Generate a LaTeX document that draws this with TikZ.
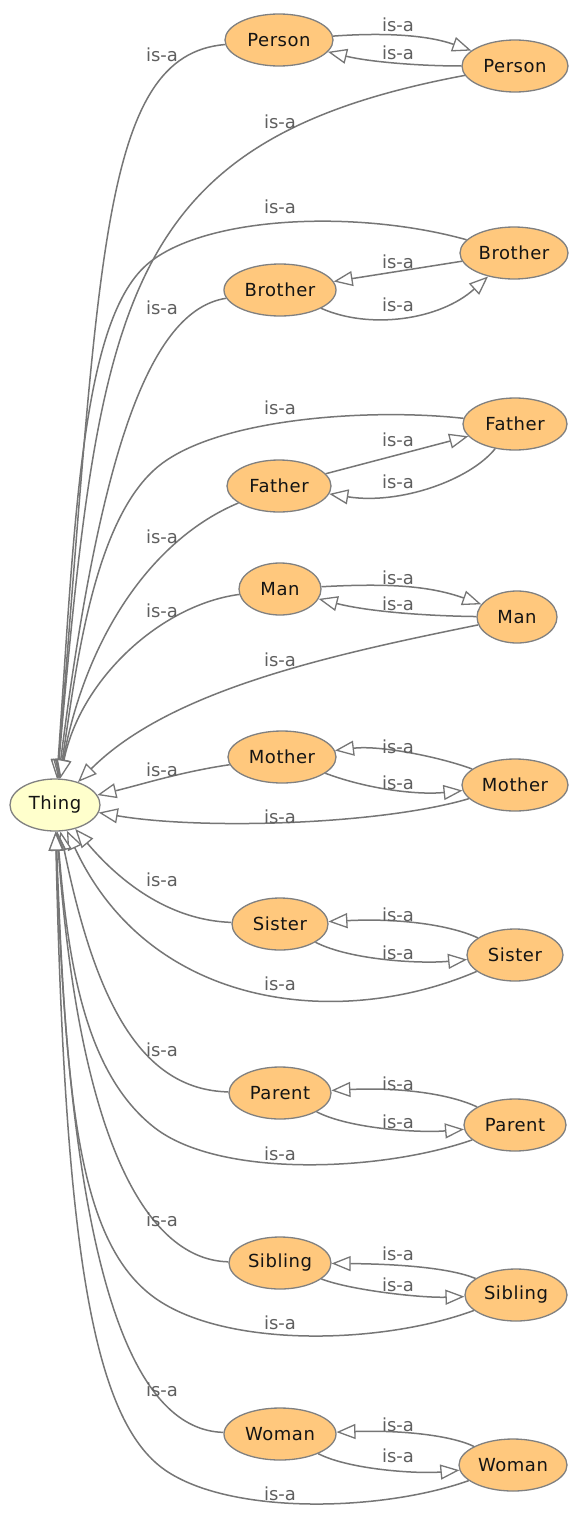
\documentclass[tikz,border=0pt]{standalone}
\usepackage{fontspec}
\setmainfont{DejaVu Sans}
\newfontfamily\conceptfont[LetterSpace=3]{DejaVu Sans}
\usetikzlibrary{arrows.meta,shapes.geometric}

\definecolor{conceptfill}{RGB}{255,200,125}
\definecolor{rootfill}{RGB}{255,255,204}
\definecolor{edgegray}{RGB}{118,118,118}
\definecolor{bordergray}{RGB}{128,128,128}
\definecolor{labelgray}{RGB}{95,95,95}
\definecolor{conceptText}{RGB}{20,20,20}

\tikzset{
  concept/.style={ellipse, draw=bordergray, line width=1.3pt, fill=conceptfill,
    inner sep=0pt, minimum height=52pt, text=conceptText,
    font=\conceptfont\fontsize{18}{20}\selectfont},
  root/.style={concept, fill=rootfill},
  isa/.style={draw=edgegray, line width=1.5pt,
    -{Triangle[length=19pt,width=15pt,fill=white,line width=1.3pt]}},
  lbl/.style={font=\fontsize{18}{20}\selectfont, text=labelgray, inner sep=0pt},
}

\begin{document}
\begin{tikzpicture}[x=1pt,y=-1pt]
\useasboundingbox (0,0) rectangle (570,1515);
\fill[white] (0,0) rectangle (570,1515);

% root class
\node[root, minimum width=90pt] (Thing) at (55,805) {Thing};

% left column
\node[concept, minimum width=108pt] (PersonL)  at (279,40)   {Person};
\node[concept, minimum width=112pt] (BrotherL) at (280,290)  {Brother};
\node[concept, minimum width=104pt] (FatherL)  at (279,486)  {Father};
\node[concept, minimum width=82pt]  (ManL)     at (280,589)  {Man};
\node[concept, minimum width=108pt] (MotherL)  at (282,757)  {Mother};
\node[concept, minimum width=96pt]  (SisterL)  at (280,924)  {Sister};
\node[concept, minimum width=102pt] (ParentL)  at (280,1093) {Parent};
\node[concept, minimum width=102pt] (SiblingL) at (280,1263) {Sibling};
\node[concept, minimum width=112pt] (WomanL)   at (280,1434) {Woman};

% right column
\node[concept, minimum width=106pt] (PersonR)  at (515,66)   {Person};
\node[concept, minimum width=108pt] (BrotherR) at (514,253)  {Brother};
\node[concept, minimum width=104pt] (FatherR)  at (515,424)  {Father};
\node[concept, minimum width=80pt]  (ManR)     at (517,617)  {Man};
\node[concept, minimum width=106pt] (MotherR)  at (515,785)  {Mother};
\node[concept, minimum width=96pt]  (SisterR)  at (515,955)  {Sister};
\node[concept, minimum width=102pt] (ParentR)  at (515,1125) {Parent};
\node[concept, minimum width=102pt] (SiblingR) at (516,1295) {Sibling};
\node[concept, minimum width=108pt] (WomanR)   at (513,1465) {Woman};

% subclass links into the root
\draw[isa] (PersonL) .. controls (100,55) and (100,260) .. (Thing);
\draw[isa] (PersonR) .. controls (120,140) and (100,300) .. (Thing);
\draw[isa] (BrotherR) .. controls (360,210) and (210,215) .. (150,262)
                      .. controls (81,316) and (75,520) .. (Thing);
\draw[isa] (BrotherL) .. controls (150,310) and (100,450) .. (Thing);
\draw[isa] (FatherR) .. controls (370,408) and (220,418) .. (160,465)
                     .. controls (91,519) and (75,680) .. (Thing);
\draw[isa] (FatherL) .. controls (150,540) and (85,640) .. (Thing);
\draw[isa] (ManL) .. controls (160,605) and (80,680) .. (Thing);
\draw[isa] (ManR) .. controls (330,655) and (170,690) .. (Thing);
\draw[isa] (MotherL) .. controls (180,772) and (140,785) .. (Thing);
\draw[isa] (MotherR) .. controls (380,825) and (200,830) .. (Thing);
\draw[isa] (SisterL) .. controls (160,920) and (110,870) .. (Thing);
\draw[isa] (SisterR) .. controls (340,1030) and (150,1010) .. (Thing);
\draw[isa] (ParentL) .. controls (140,1090) and (95,1000) .. (Thing);
\draw[isa] (ParentR) .. controls (380,1172) and (220,1178) .. (155,1128)
                     .. controls (84,1073) and (68,960) .. (Thing);
\draw[isa] (SiblingL) .. controls (150,1260) and (80,1150) .. (Thing);
\draw[isa] (SiblingR) .. controls (380,1345) and (225,1348) .. (155,1298)
                      .. controls (78,1243) and (66,1100) .. (Thing);
\draw[isa] (WomanL) .. controls (140,1430) and (70,1300) .. (Thing);
\draw[isa] (WomanR) .. controls (380,1512) and (230,1515) .. (165,1470)
                    .. controls (93,1420) and (65,1250) .. (Thing);

% mutual links between the paired classes
\draw[isa] (PersonL) .. controls (390,32) and (430,36) .. (PersonR);
\draw[isa] (PersonR) .. controls (420,66) and (370,62) .. (PersonL);
\draw[isa] (BrotherR) -- (BrotherL);
\draw[isa] (BrotherL) .. controls (370,330) and (440,320) .. (BrotherR);
\draw[isa] (FatherL) -- (FatherR);
\draw[isa] (FatherR) .. controls (470,480) and (400,505) .. (FatherL);
\draw[isa] (ManL) .. controls (390,583) and (430,586) .. (ManR);
\draw[isa] (ManR) .. controls (430,616) and (370,612) .. (ManL);
\draw[isa] (MotherR) .. controls (440,757) and (380,745) .. (MotherL);
\draw[isa] (MotherL) .. controls (370,790) and (420,795) .. (MotherR);
\draw[isa] (SisterR) .. controls (450,925) and (400,918) .. (SisterL);
\draw[isa] (SisterL) .. controls (350,960) and (420,964) .. (SisterR);
\draw[isa] (ParentR) .. controls (450,1094) and (400,1087) .. (ParentL);
\draw[isa] (ParentL) .. controls (350,1129) and (420,1133) .. (ParentR);
\draw[isa] (SiblingR) .. controls (450,1268) and (400,1264) .. (SiblingL);
\draw[isa] (SiblingL) .. controls (350,1290) and (420,1298) .. (SiblingR);
\draw[isa] (WomanR) .. controls (450,1435) and (400,1430) .. (WomanL);
\draw[isa] (WomanL) .. controls (350,1470) and (420,1474) .. (WomanR);

% link labels
\node[lbl] (lPersonL)  at (162,55)   {is-a};
\node[lbl] (lPersonR)  at (280,122)  {is-a};
\node[lbl] (lBrotherR) at (280,207)  {is-a};
\node[lbl] (lBrotherL) at (162,308)  {is-a};
\node[lbl] (lFatherR)  at (280,408)  {is-a};
\node[lbl] (lFatherL)  at (162,537)  {is-a};
\node[lbl] (lManL)     at (162,611)  {is-a};
\node[lbl] (lManR)     at (280,660)  {is-a};
\node[lbl] (lMotherL)  at (162,770)  {is-a};
\node[lbl] (lMotherR)  at (280,817)  {is-a};
\node[lbl] (lSisterL)  at (162,880)  {is-a};
\node[lbl] (lSisterR)  at (280,984)  {is-a};
\node[lbl] (lParentL)  at (162,1050) {is-a};
\node[lbl] (lParentR)  at (280,1154) {is-a};
\node[lbl] (lSiblingL) at (162,1220) {is-a};
\node[lbl] (lSiblingR) at (280,1323) {is-a};
\node[lbl] (lWomanL)   at (162,1390) {is-a};
\node[lbl] (lWomanR)   at (280,1494) {is-a};

\node[lbl] (pPerson1)  at (398,25)   {is-a};
\node[lbl] (pPerson2)  at (398,53)   {is-a};
\node[lbl] (pBrother1) at (398,262)  {is-a};
\node[lbl] (pBrother2) at (398,305)  {is-a};
\node[lbl] (pFather1)  at (398,440)  {is-a};
\node[lbl] (pFather2)  at (398,482)  {is-a};
\node[lbl] (pMan1)     at (398,578)  {is-a};
\node[lbl] (pMan2)     at (398,604)  {is-a};
\node[lbl] (pMother1)  at (398,747)  {is-a};
\node[lbl] (pMother2)  at (398,783)  {is-a};
\node[lbl] (pSister1)  at (398,915)  {is-a};
\node[lbl] (pSister2)  at (398,953)  {is-a};
\node[lbl] (pParent1)  at (398,1084) {is-a};
\node[lbl] (pParent2)  at (398,1122) {is-a};
\node[lbl] (pSibling1) at (398,1254) {is-a};
\node[lbl] (pSibling2) at (398,1285) {is-a};
\node[lbl] (pWoman1)   at (398,1425) {is-a};
\node[lbl] (pWoman2)   at (398,1456) {is-a};
\end{tikzpicture}
\end{document}
